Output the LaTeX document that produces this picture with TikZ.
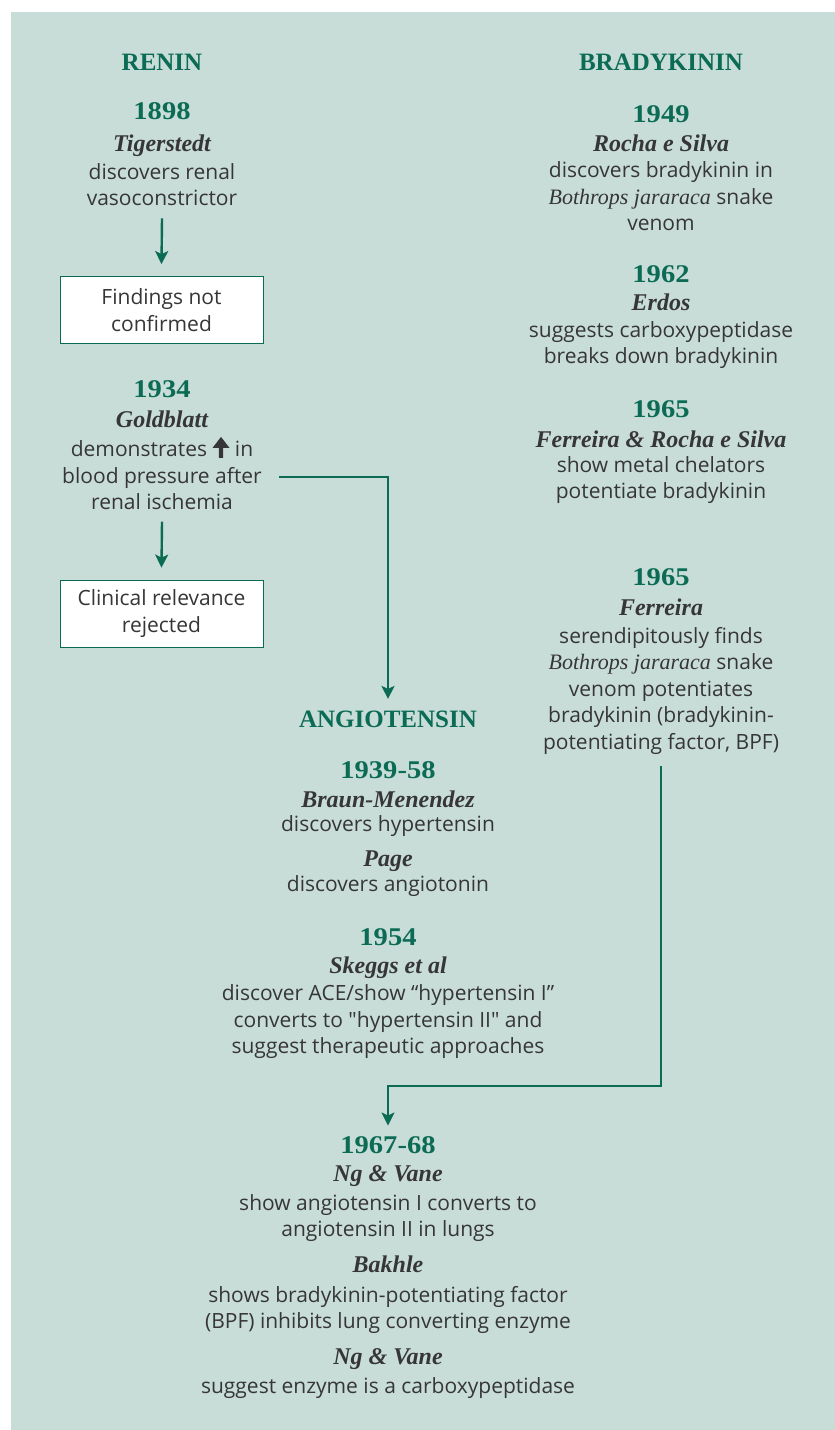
\documentclass[tikz,border=0pt]{standalone}
\usepackage{fontspec}
\setmainfont{Open Sans}
\newfontfamily\titlefont{Liberation Serif}
\newfontfamily\yearfont[FakeStretch=1.12]{Liberation Serif}
\usetikzlibrary{arrows.meta}

\definecolor{panel}{HTML}{C8DDD8}
\definecolor{rgreen}{HTML}{0B6B55}
\definecolor{inkgray}{HTML}{363636}

\newcommand\bparrow{\tikz[baseline=0pt,x=1pt,y=1pt]\fill[inkgray] (-2.2,-1) rectangle (2.2,11) (-8.5,9) -- (0,20) -- (8.5,9) -- cycle;}
\newcommand\spec[1]{{\titlefont\itshape\fontsize{22}{26}\selectfont #1}}

\tikzset{
  head/.style = {anchor=base, text=rgreen, font=\titlefont\bfseries\fontsize{25}{28}\selectfont},
  year/.style = {anchor=base, text=rgreen, font=\yearfont\bfseries\fontsize{25.5}{28}\selectfont},
  who/.style = {anchor=base, text=inkgray, font=\titlefont\bfseries\itshape\fontsize{24}{28}\selectfont},
  body/.style = {text=inkgray, align=center, font=\fontsize{21}{26.5}\selectfont},
  note/.style = {body, draw=rgreen, line width=0.8pt, fill=white, minimum width=203pt, minimum height=67pt},
  flow/.style = {draw=rgreen, line width=2.4pt, -{Stealth[length=13pt, width=13pt, inset=3pt]}}
}

\begin{document}
\begin{tikzpicture}[x=1pt, y=-1pt]

    \useasboundingbox (0,0) rectangle (835,1430);
    \fill[white] (0,0) rectangle (835,1430);
    \fill[panel] (11,12) rectangle (835,1430);

    % renin column
    \node (renin) [head] at (162,70) {RENIN};
    \node (y1898) [year] at (162,119) {1898};
    \node (tiger) [who] at (162,151) {Tigerstedt};
    \node (tigtxt) [body] at (162,184.5) {discovers renal\\vasoconstrictor};
    \node (nfbox) [note] at (161.5,310) {Findings not\\confirmed};

    \node (y1934) [year] at (162,397) {1934};
    \node (gold) [who] at (162,427) {Goldblatt};
    \node (goldtxt) [body] at (162,473.5) {demonstrates \bparrow{} in\\blood pressure after\\renal ischemia};
    \node (crbox) [note] at (161.5,613.5) {Clinical relevance\\rejected};

    % bradykinin column
    \node (brady) [head] at (661,70) {BRADYKININ};
    \node (y1949) [year] at (661,122) {1949};
    \node (rocha) [who] at (661,151) {Rocha e Silva};
    \node (rochatxt) [body] at (661,196.5) {discovers bradykinin in\\\spec{Bothrops jararaca} snake\\venom};

    \node (y1962) [year] at (661,282) {1962};
    \node (erdos) [who] at (661,310) {Erdos};
    \node (erdostxt) [body] at (661,345) {suggests carboxypeptidase\\breaks down bradykinin};

    \node (y1965a) [year] at (661,417) {1965};
    \node (ferrocha) [who] at (661,447) {Ferreira \& Rocha e Silva};
    \node (ferrochatxt) [body] at (661,480) {show metal chelators\\potentiate bradykinin};

    \node (y1965b) [year] at (661,585) {1965};
    \node (ferr) [who] at (661,615) {Ferreira};
    \node (ferrtxt) [body] at (661,690.5) {serendipitously finds\\\spec{Bothrops jararaca} snake\\venom potentiates\\bradykinin (bradykinin-\\potentiating factor, BPF)};

    % angiotensin column
    \node (angio) [head] at (388,727) {ANGIOTENSIN};
    \node (y3958) [year] at (388,778) {1939-58};
    \node (braun) [who] at (388,807) {Braun-Menendez};
    \node (brauntxt) [body] at (388,826) {discovers hypertensin};
    \node (page) [who] at (388,866) {Page};
    \node (pagetxt) [body] at (388,886) {discovers angiotonin};

    \node (y1954) [year] at (388,945) {1954};
    \node (skeggs) [who] at (388,973) {Skeggs et al};
    \node (skeggstxt) [body] at (388,1022) {discover ACE/show “hypertensin I”\\converts to \textquotedbl hypertensin II\textquotedbl{} and\\suggest therapeutic approaches};

    % ace
    \node (y6768) [year] at (388,1153) {1967-68};
    \node (ngvane) [who] at (388,1181) {Ng \& Vane};
    \node (ngvanetxt) [body] at (388,1218) {show angiotensin I converts to\\angiotensin II in lungs};
    \node (bakhle) [who] at (388,1272) {Bakhle};
    \node (bakhletxt) [body] at (388,1310) {shows bradykinin-potentiating factor\\(BPF) inhibits lung converting enzyme};
    \node (ngvanetwo) [who] at (388,1364) {Ng \& Vane};
    \node (ngvanetwotxt) [body] at (388,1388) {suggest enzyme is a carboxypeptidase};

    % arrows
    \coordinate (kneeone) at (279,477);
    \coordinate (kneetwo) at (661,1086);
    \draw[flow] ([yshift=-9pt]tigtxt.south) -- ([yshift=12pt]nfbox.north);
    \draw[flow] ([yshift=-8pt]goldtxt.south) -- ([yshift=12pt]crbox.north);
    \draw[flow] (kneeone) -| ([yshift=8pt]angio.north);
    \draw[flow] ([yshift=-8.5pt]ferrtxt.south) -- (kneetwo) -| ([yshift=7pt]y6768.north);

\end{tikzpicture}
\end{document}
